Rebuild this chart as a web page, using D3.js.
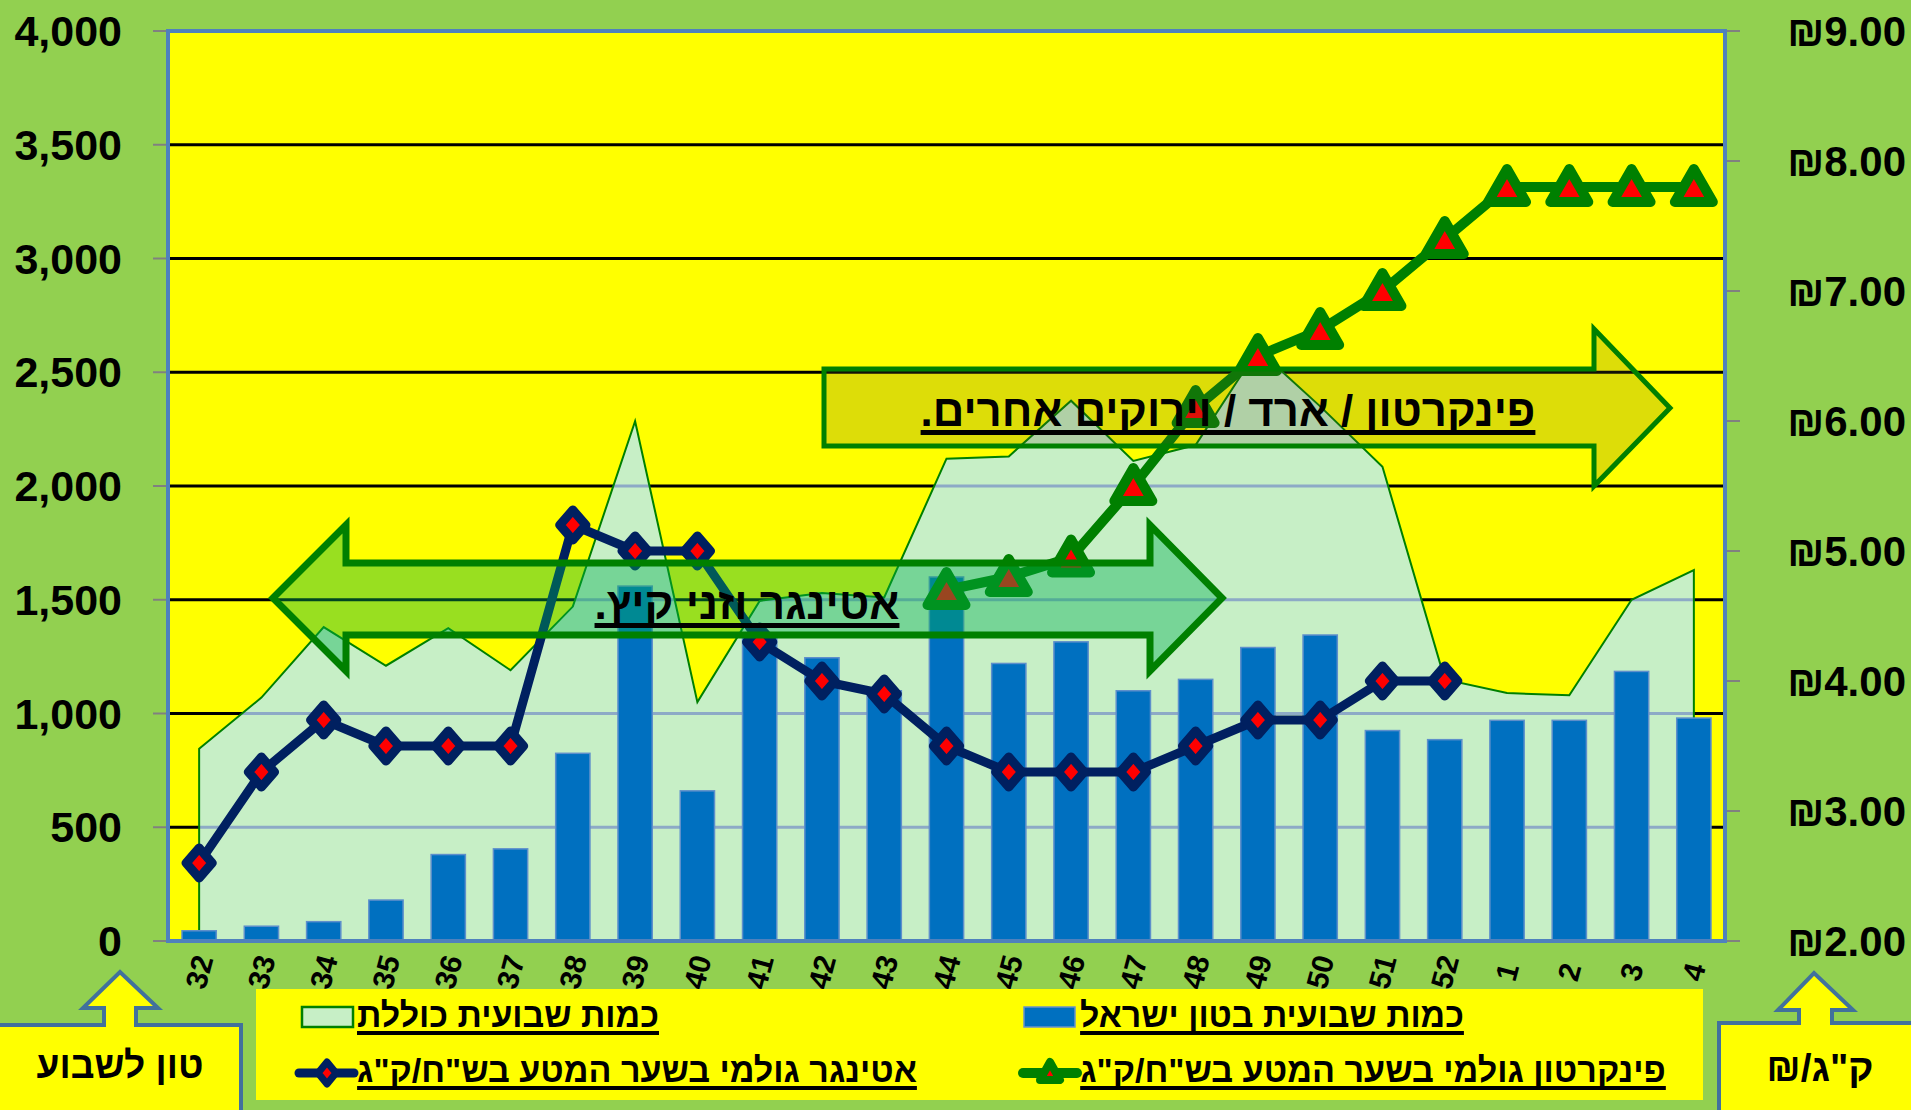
<!DOCTYPE html>
<html>
<head>
<meta charset="utf-8">
<script src="https://cdn.jsdelivr.net/npm/d3@7.9.0/dist/d3.min.js"></script>
<style>
  html, body { margin: 0; padding: 0; background: #92D050; }
  svg { display: block; }
</style>
</head>
<body>
<svg id="chart" width="1911" height="1110"></svg>
<script>
// ---- data ----
const weeks = ['32','33','34','35','36','37','38','39','40','41','42','43','44','45','46','47','48','49','50','51','52','1','2','3','4'];
// weekly total (area), tons
const totalTons = [845,1070,1380,1210,1375,1190,1470,2285,1050,1495,1530,1510,2120,2130,2375,2110,2180,2600,2350,2085,1150,1090,1080,1500,1630];
// weekly Israeli quantity (bars), tons
const israelTons = [45,65,85,180,380,405,825,1560,660,1350,1245,1100,1600,1220,1315,1100,1150,1290,1345,925,885,970,970,1185,980];
// Ettinger raw price at orchard gate, NIS/kg
const ettingerPrice = [2.6,3.3,3.7,3.5,3.5,3.5,5.2,5.0,5.0,4.3,4.0,3.9,3.5,3.3,3.3,3.3,3.5,3.7,3.7,4.0,4.0,null,null,null,null];
// Pinkerton raw price at orchard gate, NIS/kg
const pinkertonPrice = [null,null,null,null,null,null,null,null,null,null,null,null,4.7,4.8,4.95,5.5,6.1,6.5,6.7,7.0,7.4,7.8,7.8,7.8,7.8];

const leftTicks = d3.range(0, 4001, 500);
const rightTicks = d3.range(2, 10, 1);

const legendLabels = {
  total: 'כמות שבועית כוללת',
  israel: 'כמות שבועית בטון ישראל',
  ettinger: 'אטינגר גולמי בשער המטע בש"ח/ק"ג',
  pinkerton: 'פינקרטון גולמי בשער המטע בש"ח/ק"ג'
};
const noteSummer = 'אטינגר וזני קיץ.';
const noteOthers = 'פינקרטון / ארד / וירוקים אחרים.';
const leftUnit = 'טון לשבוע';
const rightUnitSign = '₪/';
const rightUnitKg = 'ק"ג';

// ---- layout ----
const svg = d3.select('#chart');
const plot = { left: 168, right: 1725, top: 31, bottom: 941 };
const FONT = '"Liberation Sans", Arial, "DejaVu Sans", sans-serif';

const x = d3.scaleBand().domain(weeks).range([plot.left, plot.right]);
const xBar = d3.scaleBand().domain(weeks).range([plot.left, plot.right]).paddingInner(0.45).paddingOuter(0.225);
const cx = (w) => x(w) + x.bandwidth() / 2;
const yL = d3.scaleLinear().domain([0, 4000]).range([plot.bottom, plot.top]);
const yR = d3.scaleLinear().domain([2, 9]).range([plot.bottom, plot.top]);

// chart background + plot area
svg.append('rect').attr('width', 1911).attr('height', 1110).attr('fill', '#92D050');
svg.append('rect')
  .attr('x', plot.left).attr('y', plot.top)
  .attr('width', plot.right - plot.left).attr('height', plot.bottom - plot.top)
  .attr('fill', '#FFFF00');

// black gridlines
svg.append('g')
  .selectAll('line')
  .data(leftTicks.filter(d => d > 0 && d < 4000))
  .join('line')
  .attr('x1', plot.left).attr('x2', plot.right)
  .attr('y1', d => yL(d)).attr('y2', d => yL(d))
  .attr('stroke', '#000').attr('stroke-width', 3);

// area (total)
const totalRows = weeks.map((w, i) => ({ w, v: totalTons[i] }));
const area = d3.area().x(d => cx(d.w)).y0(yL(0)).y1(d => yL(d.v));
const areaPath = area(totalRows);

svg.append('clipPath').attr('id', 'areaClip').append('path').attr('d', areaPath);
svg.append('path').attr('d', areaPath).attr('fill', '#C7EFC6');

// gridlines show blue-grey where they cross the area
svg.append('g')
  .attr('clip-path', 'url(#areaClip)')
  .selectAll('line')
  .data(leftTicks.filter(d => d > 0 && d < 4000))
  .join('line')
  .attr('x1', plot.left).attr('x2', plot.right)
  .attr('y1', d => yL(d)).attr('y2', d => yL(d))
  .attr('stroke', '#8DAAC6').attr('stroke-width', 3);

svg.append('path').attr('d', areaPath)
  .attr('fill', 'none').attr('stroke', '#008000').attr('stroke-width', 2);

// bars (israel)
svg.append('g')
  .selectAll('rect')
  .data(weeks.map((w, i) => ({ w, v: israelTons[i] })))
  .join('rect')
  .attr('x', d => xBar(d.w))
  .attr('width', xBar.bandwidth())
  .attr('y', d => yL(d.v))
  .attr('height', d => yL(0) - yL(d.v))
  .attr('fill', '#0070C0')
  .attr('stroke', '#5E8FCB').attr('stroke-width', 1.5);

// markers
const diamond = 'M0,-15L13,0L0,15L-13,0Z';
const triangle = 'M0,-18L19,15L-19,15Z';

function drawPriceLine(values, color, width, markerPath, markerStroke) {
  const rows = weeks.map((w, i) => ({ w, v: values[i] })).filter(d => d.v != null);
  const line = d3.line().x(d => cx(d.w)).y(d => yR(d.v));
  svg.append('path')
    .attr('d', line(rows))
    .attr('fill', 'none').attr('stroke', color).attr('stroke-width', width)
    .attr('stroke-linejoin', 'round');
  svg.append('g')
    .selectAll('path')
    .data(rows)
    .join('path')
    .attr('d', markerPath)
    .attr('transform', d => `translate(${cx(d.w)},${yR(d.v)})`)
    .attr('fill', '#FF0000')
    .attr('stroke', color).attr('stroke-width', markerStroke)
    .attr('stroke-linejoin', 'round');
}
drawPriceLine(ettingerPrice, '#002060', 9, diamond, 9);
drawPriceLine(pinkertonPrice, '#008000', 10, triangle, 10);

// helpers for the hebrew notes
function fitText(t, target) {
  const w = t.node().getComputedTextLength();
  const fs = parseFloat(t.attr('font-size'));
  t.attr('font-size', fs * target / w);
}
function underline(t, y, h) {
  const b = t.node().getBBox();
  svg.append('rect').attr('x', b.x).attr('y', y).attr('width', b.width).attr('height', h).attr('fill', '#000');
}
function hebrewText(txt, centerX, baseY, width, size) {
  const t = svg.append('text')
    .attr('x', centerX).attr('y', baseY)
    .attr('direction', 'rtl')
    .attr('text-anchor', 'middle')
    .attr('font-family', FONT).attr('font-weight', 'bold')
    .attr('font-size', size)
    .attr('fill', '#000')
    .text(txt);
  fitText(t, width);
  return t;
}

// double arrow "summer varieties"
const dblArrow = [[273,598],[346,525],[346,563],[1150,563],[1150,525],[1222,598],[1150,671],[1150,635],[346,635],[346,671]];
svg.append('path')
  .attr('d', d3.line()(dblArrow) + 'Z')
  .attr('fill', '#00B050').attr('fill-opacity', 0.4)
  .attr('stroke', '#008000').attr('stroke-width', 7);
let t1 = hebrewText(noteSummer, 747, 619, 305, 40);
underline(t1, 623, 5);

// right arrow "pinkerton / others"
const rArrow = [[824,369],[1594,369],[1594,329],[1670,408],[1594,486],[1594,446],[824,446]];
svg.append('path')
  .attr('d', d3.line()(rArrow) + 'Z')
  .attr('fill', '#555528').attr('fill-opacity', 0.2)
  .attr('stroke', '#008000').attr('stroke-width', 5);
let t2 = hebrewText(noteOthers, 1228, 426, 615, 40);
underline(t2, 430, 5);

// plot border
svg.append('rect')
  .attr('x', plot.left).attr('y', plot.top)
  .attr('width', plot.right - plot.left).attr('height', plot.bottom - plot.top)
  .attr('fill', 'none').attr('stroke', '#4F81BD').attr('stroke-width', 4);

// left axis
const gL = svg.append('g');
gL.selectAll('line').data(leftTicks).join('line')
  .attr('x1', 153).attr('x2', plot.left - 2)
  .attr('y1', d => yL(d)).attr('y2', d => yL(d))
  .attr('stroke', '#808080').attr('stroke-width', 2);
gL.selectAll('text').data(leftTicks).join('text')
  .attr('x', 122).attr('y', d => yL(d) + 15)
  .attr('text-anchor', 'end')
  .attr('font-family', FONT).attr('font-weight', 'bold').attr('font-size', 43)
  .text(d => d3.format(',')(d));

// right axis
const gR = svg.append('g');
gR.selectAll('line').data(rightTicks).join('line')
  .attr('x1', plot.right + 2).attr('x2', 1740)
  .attr('y1', d => yR(d)).attr('y2', d => yR(d))
  .attr('stroke', '#808080').attr('stroke-width', 2);
gR.selectAll('text').data(rightTicks).join('text')
  .attr('x', 1906).attr('y', d => yR(d) + 15)
  .attr('text-anchor', 'end')
  .attr('font-family', FONT).attr('font-weight', 'bold').attr('font-size', 42)
  .text(d => '₪' + d3.format('.2f')(d));

// category labels
svg.append('g').selectAll('text').data(weeks).join('text')
  .attr('transform', d => `translate(${cx(d)},972) rotate(-75)`)
  .attr('text-anchor', 'middle')
  .attr('dominant-baseline', 'central')
  .attr('font-family', FONT).attr('font-weight', 'bold').attr('font-size', 30)
  .text(d => d);

// legend
svg.append('rect').attr('x', 256).attr('y', 989).attr('width', 1447).attr('height', 111).attr('fill', '#FFFF00');

svg.append('rect').attr('x', 302).attr('y', 1007).attr('width', 51).attr('height', 20)
  .attr('fill', '#C7EFC6').attr('stroke', '#008000').attr('stroke-width', 2.5);
svg.append('rect').attr('x', 1024).attr('y', 1007).attr('width', 51).attr('height', 20)
  .attr('fill', '#0070C0').attr('stroke', '#6A93C8').attr('stroke-width', 1.5);

svg.append('line').attr('x1', 299).attr('x2', 354).attr('y1', 1073).attr('y2', 1073)
  .attr('stroke', '#002060').attr('stroke-width', 9).attr('stroke-linecap', 'round');
svg.append('path').attr('d', 'M0,-11L9,0L0,11L-9,0Z').attr('transform', 'translate(327,1073)')
  .attr('fill', '#FF0000').attr('stroke', '#002060').attr('stroke-width', 7).attr('stroke-linejoin', 'round');

svg.append('line').attr('x1', 1023).attr('x2', 1077).attr('y1', 1073).attr('y2', 1073)
  .attr('stroke', '#008000').attr('stroke-width', 10).attr('stroke-linecap', 'round');
svg.append('path').attr('d', 'M0,-10L10,8L-10,8Z').attr('transform', 'translate(1050,1072)')
  .attr('fill', '#FF0000').attr('stroke', '#008000').attr('stroke-width', 8).attr('stroke-linejoin', 'round');

const legendItems = [
  { txt: legendLabels.total, cx: 508, y: 1027, w: 302 },
  { txt: legendLabels.israel, cx: 1272, y: 1027, w: 384 },
  { txt: legendLabels.ettinger, cx: 637, y: 1082, w: 560 },
  { txt: legendLabels.pinkerton, cx: 1373, y: 1082, w: 586 }
];
legendItems.forEach(d => {
  const t = hebrewText(d.txt, d.cx, d.y, d.w, 32);
  underline(t, d.y + 4, 4);
});

// unit callouts
function calloutShape(points) {
  svg.append('path')
    .attr('d', d3.line()(points) + 'Z')
    .attr('fill', '#FFFF00').attr('stroke', '#41719C').attr('stroke-width', 4);
}
calloutShape([[-5,1025],[104,1025],[104,1008],[83,1008],[120,972],[158,1008],[136,1008],[136,1025],[241,1025],[241,1120],[-5,1120]]);
const tu = svg.append('text')
  .attr('x', 120).attr('y', 1078)
  .attr('direction', 'rtl').attr('text-anchor', 'middle')
  .attr('font-family', FONT).attr('font-weight', 'bold').attr('font-size', 38)
  .text(leftUnit);
fitText(tu, 167);

calloutShape([[1719,1023],[1799,1023],[1799,1010],[1778,1010],[1814,973],[1853,1010],[1832,1010],[1832,1023],[1920,1023],[1920,1120],[1719,1120]]);
// shekel sign on the left, kg on the right: two pieces so bidi can't swap them
const unitFs = 38;
const ts = svg.append('text').attr('y', 1081).attr('text-anchor', 'start')
  .attr('font-family', FONT).attr('font-weight', 'bold').attr('font-size', unitFs)
  .text(rightUnitSign);
const tk = svg.append('text').attr('y', 1081).attr('text-anchor', 'start')
  .attr('font-family', FONT).attr('font-weight', 'bold').attr('font-size', unitFs)
  .text(rightUnitKg);
const w1 = ts.node().getComputedTextLength();
const w2 = tk.node().getComputedTextLength();
const k = 107 / (w1 + w2);
const uLeft = 1820 - 107 / 2;
ts.attr('font-size', unitFs * k).attr('x', uLeft);
tk.attr('font-size', unitFs * k).attr('x', uLeft + w1 * k);
</script>
</body>
</html>
